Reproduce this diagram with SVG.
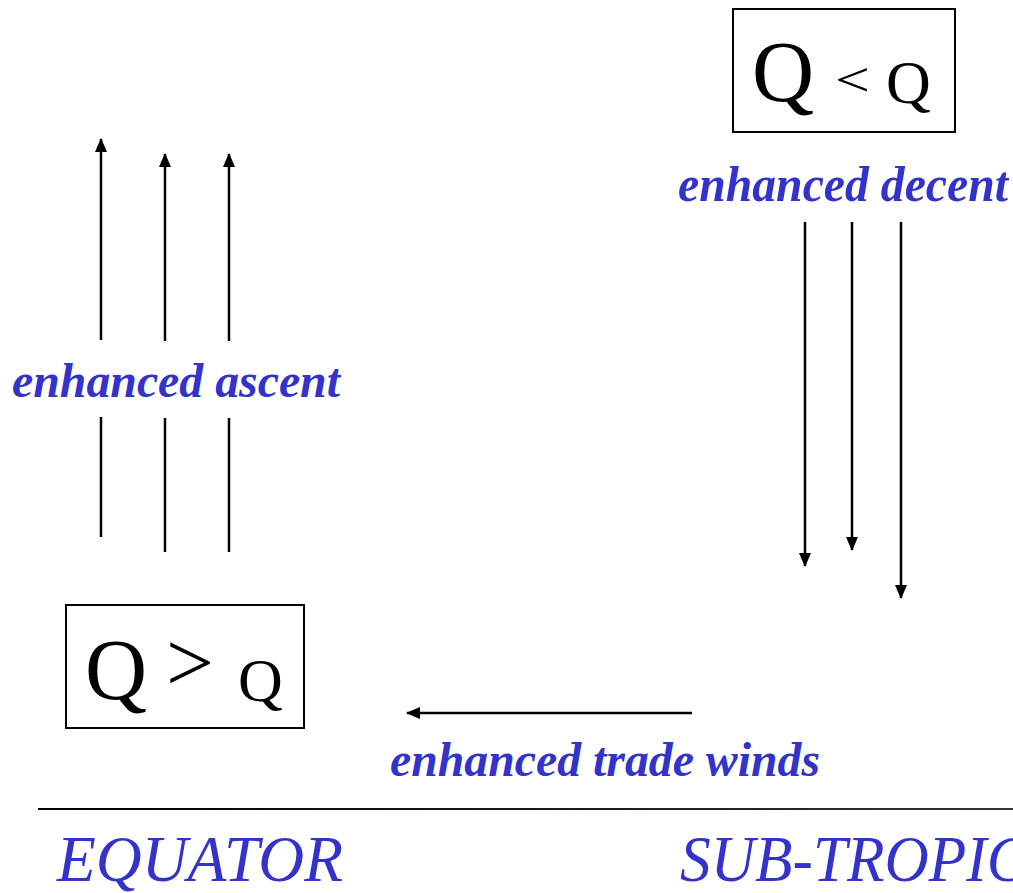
<svg xmlns="http://www.w3.org/2000/svg" width="1013" height="893" viewBox="0 0 1013 893">
<style>
.lbl{font-family:'Liberation Serif','Times New Roman',serif;font-style:italic;font-weight:bold;fill:#3333cc}
.q{font-family:'Liberation Serif','Times New Roman',serif;fill:#000}
.reg{font-family:'Liberation Serif','Times New Roman',serif;font-style:italic;fill:#3333cc;font-size:66px}
.ln{stroke:#000;stroke-width:2.5;fill:none}
.box{fill:#fff;stroke:#000;stroke-width:2}
</style>
<defs>
<marker id="ah" markerWidth="14" markerHeight="12" refX="13" refY="6" orient="auto" markerUnits="userSpaceOnUse">
<path d="M0,0 L14,6 L0,12 Z" fill="#000"/>
</marker>
<linearGradient id="gl" x1="0" y1="0" x2="1" y2="0">
<stop offset="0" stop-color="#000"/>
<stop offset="1" stop-color="#333"/>
</linearGradient>
</defs>
<g id="connectors">
<line class="ln" x1="101" y1="340" x2="101" y2="139" marker-end="url(#ah)"/>
<line class="ln" x1="165" y1="341" x2="165" y2="154" marker-end="url(#ah)"/>
<line class="ln" x1="229" y1="341" x2="229" y2="154" marker-end="url(#ah)"/>
<line class="ln" x1="101" y1="417" x2="101" y2="537"/>
<line class="ln" x1="165" y1="418" x2="165" y2="552"/>
<line class="ln" x1="229" y1="418" x2="229" y2="552"/>
<line class="ln" x1="805" y1="222" x2="805" y2="566" marker-end="url(#ah)"/>
<line class="ln" x1="852" y1="222" x2="852" y2="550" marker-end="url(#ah)"/>
<line class="ln" x1="901" y1="222" x2="901" y2="598" marker-end="url(#ah)"/>
<line class="ln" x1="692" y1="713" x2="407" y2="713" marker-end="url(#ah)"/>
</g>
<g id="ground">
<rect x="38" y="808" width="975" height="2" fill="url(#gl)"/>
</g>
<g id="top-box">
<rect class="box" x="733" y="9" width="222" height="123"/>
<text class="q" x="752" y="101" font-size="86" font-family="Liberation Serif">Q</text>
<text class="q" x="835" y="96" font-size="62" font-family="Liberation Serif" transform="translate(0 96) scale(1 0.78) translate(0 -96)">&lt;</text>
<text class="q" x="886" y="103" font-size="62" font-family="Liberation Serif">Q</text>
</g>
<g id="bottom-box">
<rect class="box" x="66" y="605" width="238" height="123"/>
<text class="q" x="85" y="699" font-size="86" font-family="Liberation Serif">Q</text>
<text class="q" x="166" y="691" font-size="85" font-family="Liberation Serif">&gt;</text>
<text class="q" x="238" y="701" font-size="62" font-family="Liberation Serif">Q</text>
</g>
<g id="labels">
<text class="lbl" x="678" y="201" font-size="50" font-family="Liberation Serif" textLength="330" lengthAdjust="spacingAndGlyphs">enhanced decent</text>
<text class="lbl" x="12" y="397" font-size="48" font-family="Liberation Serif" textLength="328" lengthAdjust="spacingAndGlyphs">enhanced ascent</text>
<text class="lbl" x="390" y="776" font-size="48" font-family="Liberation Serif" textLength="430" lengthAdjust="spacingAndGlyphs">enhanced trade winds</text>
<text class="reg" x="57" y="881" font-family="Liberation Serif" textLength="286" lengthAdjust="spacingAndGlyphs">EQUATOR</text>
<text class="reg" x="680" y="881" font-family="Liberation Serif" transform="translate(680 0) scale(0.93 1) translate(-680 0)">SUB-TROPICS</text>
</g>
</svg>
